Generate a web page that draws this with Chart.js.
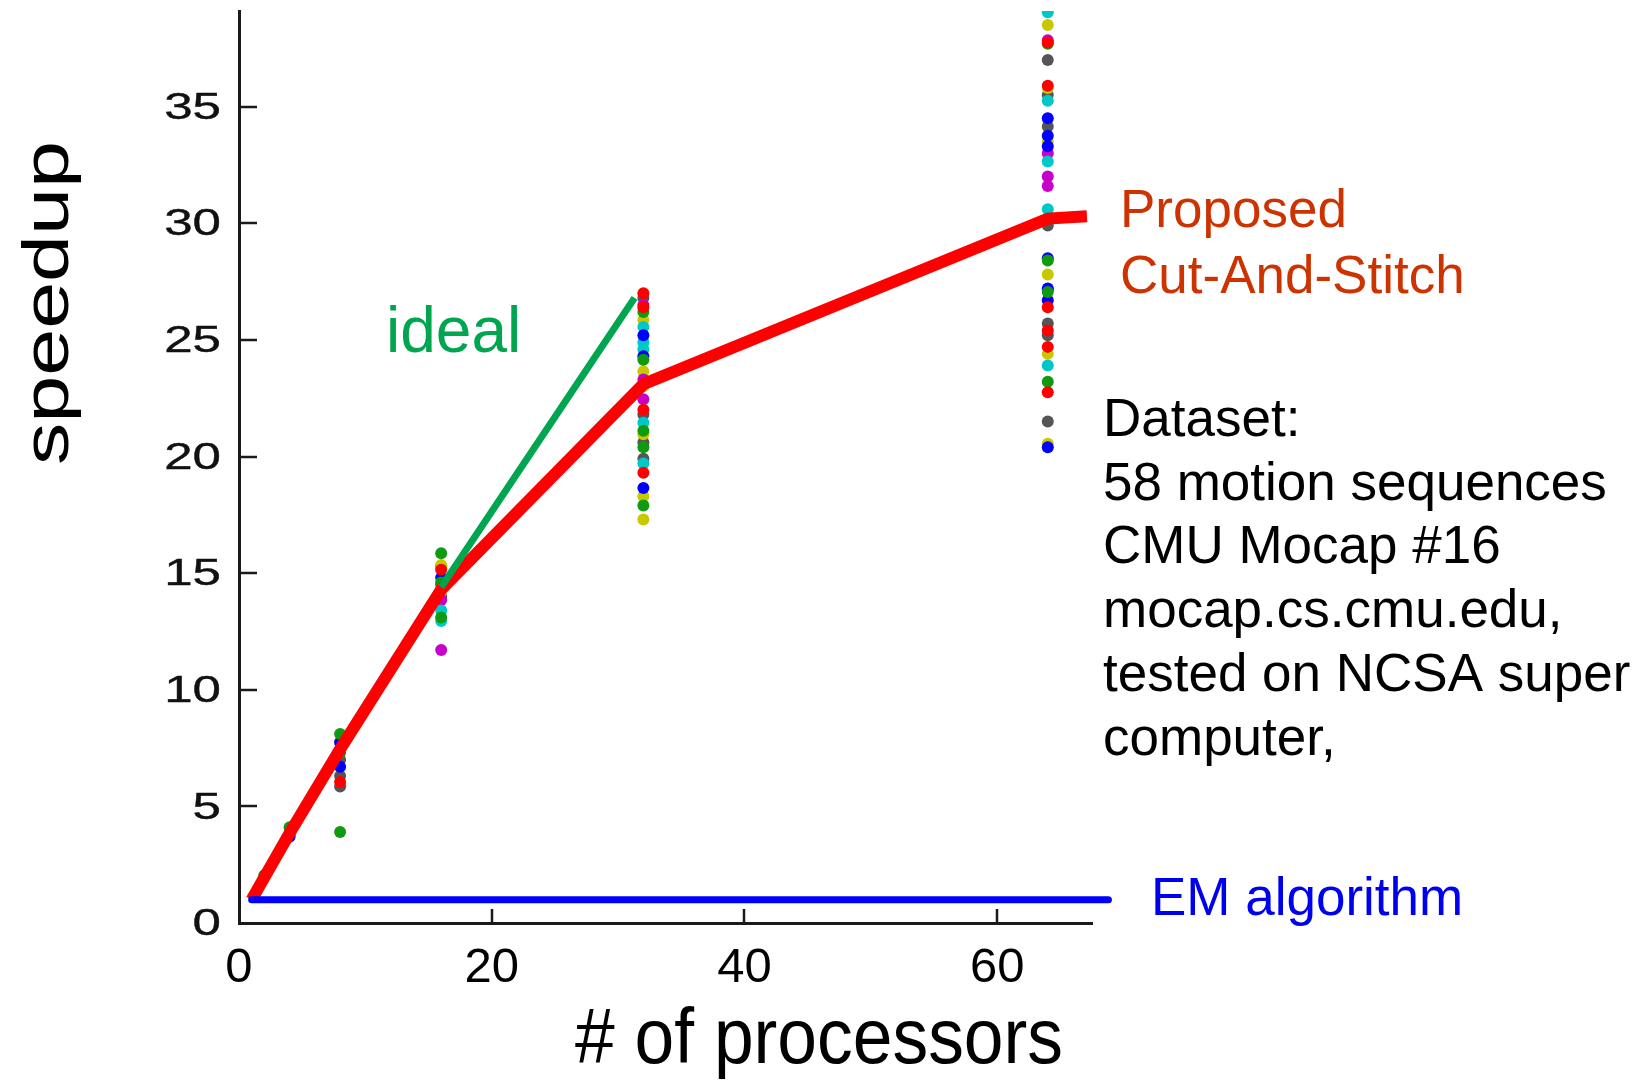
<!DOCTYPE html>
<html><head><meta charset="utf-8">
<script src="https://cdn.jsdelivr.net/npm/chart.js@4.4.0/dist/chart.umd.min.js"></script>
<style>html,body{margin:0;padding:0;background:#fff}canvas{display:block}</style>
</head><body>
<canvas id="c" width="1635" height="1080" style="width:1635px;height:1080px"></canvas>
<script>
// ---- data ----
const xTicks = [0, 20, 40, 60];
const yTicks = [0, 5, 10, 15, 20, 25, 30, 35];

const proposedX = [1, 2, 4, 8, 16, 32, 64, 67.1];
const proposedY = [1, 1.95, 3.85, 7.45, 14.3, 23.1, 30.2, 30.3];
const idealX = [16, 31.3];
const idealY = [14.4, 26.8];
const emX = [1, 68.8];
const emY = [1, 1];

// individual sequences' speedups, grouped by marker colour: [processors, speedup]
const redPts = [[64,37.75],[64,35.9],[64,26.4],[64,25.4],[64,24.7],[64,22.75],[32,27.0],[32,26.4],[32,22.0],[32,19.3],[16,15.15],[8,6.05]];
const greenPts = [[64,37.7],[64,28.4],[64,27.05],[64,23.2],[32,26.2],[32,24.15],[32,21.1],[32,20.4],[32,17.9],[16,15.85],[16,14.6],[16,13.1],[8,8.1],[8,7.3],[8,3.9],[4,4.1],[2,2.05]];
const bluePts = [[64,34.5],[64,33.75],[64,33.3],[64,28.5],[64,27.2],[64,26.7],[64,20.4],[32,25.2],[32,24.3],[32,18.65],[16,14.8],[8,7.75],[8,6.7],[4,3.7]];
const cyanPts = [[64,39.05],[64,35.25],[64,32.65],[64,30.6],[64,23.9],[32,25.55],[32,24.9],[32,24.6],[32,21.45],[32,19.7],[16,13.4],[16,12.95]];
const magentaPts = [[64,37.85],[64,33.0],[64,32.0],[64,31.6],[64,27.15],[32,26.5],[32,23.3],[32,22.45],[16,13.85],[16,11.7],[4,3.75]];
const yellowPts = [[64,38.5],[64,35.8],[64,33.5],[64,27.8],[64,24.4],[64,20.55],[32,25.85],[32,23.65],[32,23.0],[32,20.95],[32,18.3],[32,17.3],[16,15.35],[16,14.2],[8,7.4]];
const grayPts = [[64,37.0],[64,35.5],[64,34.15],[64,29.9],[64,25.7],[64,25.2],[64,21.5],[32,26.8],[32,21.8],[32,20.6],[32,19.9],[16,15.3],[16,14.5],[16,14.0],[8,7.0],[8,6.3],[8,5.85]];

const datasetNote = ["Dataset:", "58 motion sequences", "CMU Mocap #16", "mocap.cs.cmu.edu,", "tested on NCSA super", "computer,"];

// ---- build ----
const toXY = (xs, ys) => xs.map((v, i) => ({x: v, y: ys[i]}));
const toPts = arr => arr.map(p => ({x: p[0], y: p[1]}));
const scatterDefs = [
  [redPts, '#ff0000'], [greenPts, '#109a10'], [bluePts, '#0000ff'],
  [cyanPts, '#00c8c8'], [magentaPts, '#c800c8'], [yellowPts, '#c8c800'], [grayPts, '#555555']
];
const datasets = scatterDefs.map(([arr, col]) => ({
  data: toPts(arr), showLine: false, pointRadius: 6, pointBorderWidth: 0,
  backgroundColor: col, borderColor: col, order: 10, clip: 0
}));
datasets.push({
  label: 'Proposed Cut-And-Stitch', data: toXY(proposedX, proposedY), showLine: true,
  borderColor: '#ff0000', borderWidth: 12, pointRadius: 0, borderCapStyle: 'butt', order: 3
});
datasets.push({
  label: 'ideal', data: toXY(idealX, idealY), showLine: true,
  borderColor: '#00a550', borderWidth: 7, pointRadius: 0, borderCapStyle: 'butt', order: 2
});
datasets.push({
  label: 'EM algorithm', data: toXY(emX, emY), showLine: true,
  borderColor: '#0000ff', borderWidth: 7, pointRadius: 0, borderCapStyle: 'round', order: 1, clip: false
});

const FONT = '"Liberation Sans", Arial, Helvetica, sans-serif';

const overlay = {
  id: 'overlay',
  afterDraw(chart) {
    const {ctx, scales: {x, y}, chartArea: ca} = chart;
    ctx.save();
    // inward tick marks
    ctx.strokeStyle = '#1a1a1a'; ctx.lineWidth = 2.5;
    xTicks.forEach(v => { if (v === 0) return; const px = Math.round(x.getPixelForValue(v));
      ctx.beginPath(); ctx.moveTo(px, ca.bottom); ctx.lineTo(px, ca.bottom - 14); ctx.stroke(); });
    yTicks.forEach(v => { if (v === 0) return; const py = Math.round(y.getPixelForValue(v));
      ctx.beginPath(); ctx.moveTo(ca.left, py); ctx.lineTo(ca.left + 18, py); ctx.stroke(); });
    // y tick labels (wide digits)
    ctx.fillStyle = '#111'; ctx.strokeStyle = '#111'; ctx.lineWidth = 0.4;
    ctx.font = '37px ' + FONT; ctx.textAlign = 'right'; ctx.textBaseline = 'middle';
    yTicks.forEach(v => { const py = y.getPixelForValue(v);
      ctx.save(); ctx.translate(221, py + 2); ctx.scale(1.38, 1);
      ctx.fillText(String(v), 0, 0); ctx.strokeText(String(v), 0, 0); ctx.restore(); });
    // axis titles
    ctx.fillStyle = '#000'; ctx.textBaseline = 'alphabetic'; ctx.textAlign = 'center';
    ctx.save(); ctx.translate(68, 303); ctx.rotate(-Math.PI / 2); ctx.scale(1.3, 1);
    ctx.font = '65px ' + FONT; ctx.fillText('speedup', 0, 0); ctx.restore();
    ctx.save(); ctx.translate(819, 1063); ctx.scale(0.915, 1);
    ctx.font = '78px ' + FONT; ctx.fillText('# of processors', 0, 0); ctx.restore();
    // annotations
    ctx.textAlign = 'left';
    ctx.font = '64px ' + FONT; ctx.fillStyle = '#00a550'; ctx.fillText('ideal', 386, 352);
    ctx.font = '53px ' + FONT; ctx.fillStyle = '#cc3300';
    ctx.fillText('Proposed', 1120, 227); ctx.fillText('Cut-And-Stitch', 1120, 293);
    ctx.fillStyle = '#000';
    datasetNote.forEach((t, i) => ctx.fillText(t, 1103, 436 + i * 63.7));
    ctx.fillStyle = '#0000f0'; ctx.fillText('EM algorithm', 1151, 915);
    ctx.restore();
  }
};

new Chart(document.getElementById('c'), {
  type: 'scatter',
  data: {datasets},
  options: {
    responsive: false, animation: false, devicePixelRatio: 1,
    layout: {padding: {top: 11, right: 543, left: 0, bottom: 0}},
    plugins: {legend: {display: false}, tooltip: {enabled: false}},
    scales: {
      x: {
        type: 'linear', min: 0, max: 67.5,
        afterFit(s) { s.height = 157; },
        grid: {display: false},
        border: {display: true, color: '#1a1a1a', width: 3},
        ticks: {
          stepSize: 20, includeBounds: false, maxRotation: 0, autoSkip: false,
          color: '#000', padding: 8, font: {family: FONT, size: 49}
        }
      },
      y: {
        type: 'linear', min: 0, max: 39.1,
        afterFit(s) { s.width = 239; },
        grid: {display: false},
        border: {display: true, color: '#1a1a1a', width: 3},
        ticks: {stepSize: 5, includeBounds: false, display: false}
      }
    }
  },
  plugins: [overlay]
});
</script>
</body></html>
